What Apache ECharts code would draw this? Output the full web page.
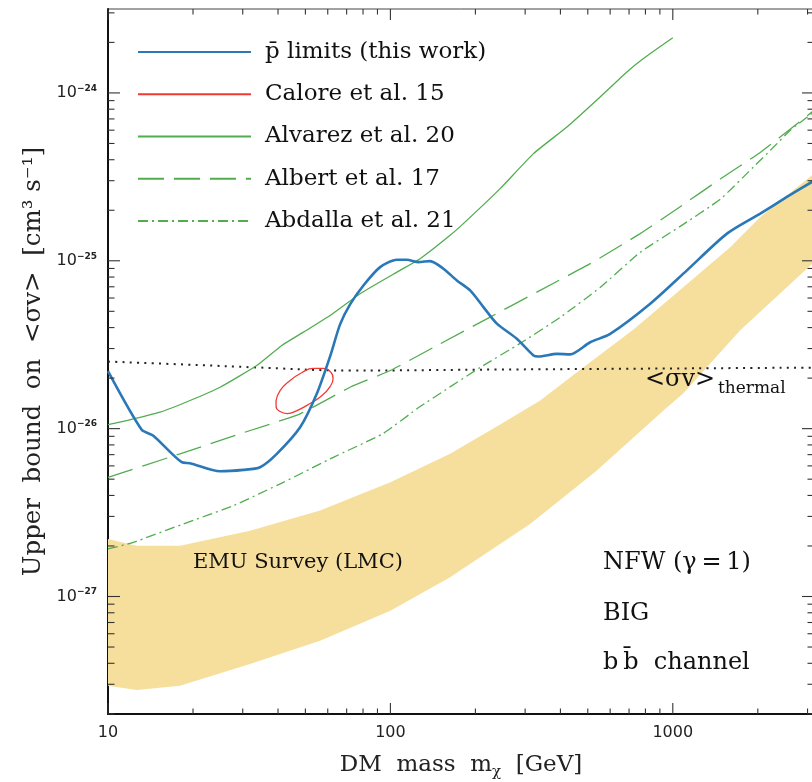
<!DOCTYPE html>
<html><head><meta charset="utf-8">
<script src="https://cdn.jsdelivr.net/npm/echarts@6/dist/echarts.min.js"></script>
<style>html,body{margin:0;padding:0;background:#fff}#c{width:812px;height:782px}</style>
</head><body><div id="c"></div>
<script>
// ---- data ----
const blueMass = [10, 13.16, 14.44, 18.24, 19.52, 24.93, 30.16, 34.55, 39.6, 47.9, 54.86, 61.14, 66.34, 71.98, 80.25, 91.96, 105.4, 114.3, 125.7, 138.2, 154.1, 171.9, 191.6, 213.5, 238.2, 280.4, 321.1, 334.4, 388.5, 433.2, 509.9, 600, 831.8, 1122, 1555, 2040, 2535, 3162];
const blueLimit = [2.20e-26, 9.84e-27, 9.10e-27, 6.31e-27, 6.22e-27, 5.57e-27, 5.68e-27, 5.89e-27, 7.08e-27, 1.019e-26, 1.613e-26, 2.69e-26, 4.18e-26, 5.50e-26, 7.13e-26, 9.17e-26, 1.015e-25, 1.015e-25, 9.82e-26, 9.96e-26, 8.97e-26, 7.64e-26, 6.66e-26, 5.30e-26, 4.22e-26, 3.43e-26, 2.73e-26, 2.69e-26, 2.79e-26, 2.77e-26, 3.27e-26, 3.67e-26, 5.55e-26, 8.77e-26, 1.451e-25, 1.91e-25, 2.40e-25, 3.0e-25];

const caloreMass = [39.37, 40.68, 44.12, 48.66, 53.23, 57.76, 61.66, 62.66, 61.14, 57.28, 51.94, 46.72, 43.06, 40.68, 39.37, 39.37];
const caloreLimit = [1.471e-26, 1.687e-26, 1.936e-26, 2.161e-26, 2.283e-26, 2.283e-26, 2.161e-26, 1.990e-26, 1.782e-26, 1.576e-26, 1.411e-26, 1.282e-26, 1.230e-26, 1.265e-26, 1.354e-26, 1.471e-26];

const alvarezMass = [10, 11.65, 15.28, 19.52, 24.93, 33.63, 41.24, 49.18, 61.14, 78.11, 108.2, 127.4, 162.7, 186.5, 244.7, 321.1, 421.7, 553.1, 687.8, 787.4, 1000];
const alvarezLimit = [1.058e-26, 1.117e-26, 1.253e-26, 1.471e-26, 1.765e-26, 2.378e-26, 3.13e-26, 3.756e-26, 4.724e-26, 6.366e-26, 8.77e-26, 1.029e-25, 1.418e-25, 1.741e-25, 2.69e-25, 4.35e-25, 6.27e-25, 9.47e-25, 1.334e-24, 1.604e-24, 2.13e-24];

const albertMass = [10, 17.99, 29.35, 47.9, 71.98, 100, 150, 225.5, 330, 509.9, 766.3, 1062, 1472, 2040, 3162];
const albertLimit = [5.13e-27, 7.08e-27, 9.32e-27, 1.226e-26, 1.765e-26, 2.221e-26, 3.20e-26, 4.62e-26, 6.51e-26, 9.61e-26, 1.451e-25, 2.1e-25, 3.07e-25, 4.42e-25, 7.88e-25];

const abdallaMass = [10, 12.29, 18.48, 27.79, 41.78, 62.83, 94.2, 127.4, 207.8, 288, 399, 553, 766.3, 1062, 1472, 1927, 2275, 2606, 3162];
const abdallaLimit = [1.919e-27, 2.102e-27, 2.705e-27, 3.477e-27, 4.79e-27, 6.75e-27, 9.35e-27, 1.354e-26, 2.313e-26, 3.22e-26, 4.60e-26, 6.94e-26, 1.122e-25, 1.604e-25, 2.323e-25, 3.61e-25, 4.76e-25, 5.99e-25, 7.7e-25];

const thermalMass = [10, 21.2, 32.6, 72, 245, 3162];
const thermalValue = [2.51e-26, 2.39e-26, 2.32e-26, 2.22e-26, 2.25e-26, 2.31e-26];

const emuUpperMass = [10, 12.64, 17.99, 31.84, 56.36, 100, 162.7, 244.7, 339.1, 482.8, 725.8, 1006, 1597, 2040, 3162];
const emuUpper = [2.203e-27, 2.009e-27, 2.009e-27, 2.468e-27, 3.248e-27, 4.79e-27, 7.08e-27, 1.058e-26, 1.471e-26, 2.323e-26, 3.90e-26, 6.22e-26, 1.202e-25, 1.822e-25, 3.31e-25];
const emuLowerMass = [10, 12.64, 17.99, 31.84, 56.36, 100, 162.7, 312.5, 538.4, 927, 1088, 1733, 3162];
const emuLower = [2.94e-28, 2.77e-28, 2.94e-28, 3.96e-28, 5.45e-28, 8.23e-28, 1.30e-27, 2.705e-27, 5.63e-27, 1.282e-26, 1.62e-26, 3.85e-26, 9.8e-26];

const xMajorTicks = [10, 100, 1000];
const yMajorTicks = [1e-27, 1e-26, 1e-25, 1e-24];
const xRange = [10, Math.pow(10, 3.5)];
const yRange = [Math.pow(10, -27.7), Math.pow(10, -23.5)];

const legendNames = ['p\u0304 limits (this work)', 'Calore et al. 15', 'Alvarez et al. 20', 'Albert et al. 17', 'Abdalla et al. 21'];

function minorTicks(lo, hi) {
  const out = [];
  for (let e = Math.floor(Math.log10(lo)) - 1; e <= Math.ceil(Math.log10(hi)); e++) {
    for (let k = 2; k <= 9; k++) {
      const v = k * Math.pow(10, e);
      if (v > lo * 1.0001 && v < hi * 0.9999) out.push(v);
    }
  }
  return out;
}
const xMinorTicks = minorTicks(xRange[0], xRange[1]);
const yMinorTicks = minorTicks(yRange[0], yRange[1]);

const pair = (xs, ys) => xs.map((x, i) => [x, ys[i]]);

const SERIF = '"DejaVu Serif", serif';
const GREEN = '#52ad4f';

function renderBand(params, api) {
  const pts = [];
  for (let i = 0; i < emuUpperMass.length; i++) pts.push(api.coord([emuUpperMass[i], emuUpper[i]]));
  for (let i = emuLowerMass.length - 1; i >= 0; i--) pts.push(api.coord([emuLowerMass[i], emuLower[i]]));
  return { type: 'polygon', shape: { points: pts }, style: { fill: '#f6df9d', stroke: null } };
}

function renderTicks(params, api) {
  const cs = params.coordSys;
  const L = cs.x, R = cs.x + cs.width, T = cs.y, B = cs.y + cs.height;
  const ch = [];
  const st = { stroke: '#333', lineWidth: 1.1 };
  const add = (x1, y1, x2, y2) => ch.push({ type: 'line', shape: { x1, y1, x2, y2 }, style: st });
  const yRef = 1e-26, xRef = 100;
  xMajorTicks.forEach(v => { const x = api.coord([v, yRef])[0]; add(x, B, x, B - 11); add(x, T, x, T + 11); });
  xMinorTicks.forEach(v => { const x = api.coord([v, yRef])[0]; add(x, B, x, B - 5.5); add(x, T, x, T + 5.5); });
  yMajorTicks.forEach(v => { const y = api.coord([xRef, v])[1]; add(L, y, L + 12, y); add(R, y, R - 12, y); });
  yMinorTicks.forEach(v => { const y = api.coord([xRef, v])[1]; add(L, y, L + 6.5, y); add(R, y, R - 6.5, y); });
  return { type: 'group', children: ch };
}

const chart = echarts.init(document.getElementById('c'), null, { renderer: 'canvas' });
chart.setOption({
  backgroundColor: '#fff',
  animation: false,
  grid: { left: 108, right: -2, top: 9, bottom: 68, show: true, borderColor: '#444', borderWidth: 1, containLabel: false, outerBoundsMode: 'none' },
  legend: {
    orient: 'vertical', left: 132, top: 35.5,
    itemWidth: 113, itemHeight: 14, itemGap: 19.25,
    data: legendNames,
    itemStyle: { opacity: 0 },
    textStyle: { fontFamily: SERIF, fontSize: 23, color: '#111', lineHeight: 23, padding: [0, 0, 0, 9] },
    selectedMode: false
  },
  xAxis: {
    type: 'log', logBase: 10, min: xRange[0], max: xRange[1],
    name: '{a|DM  mass  m}{s|\u03c7}{a|  [GeV]}', nameLocation: 'middle', nameGap: 37,
    nameTextStyle: { rich: {
      a: { fontFamily: SERIF, fontSize: 23, color: '#222' },
      s: { fontFamily: SERIF, fontSize: 15, color: '#222', padding: [14, 0, 0, 0] } } },
    axisLine: { show: true, lineStyle: { color: '#111', width: 2 } },
    axisTick: { show: false }, splitLine: { show: false },
    axisLabel: { margin: 11, fontFamily: '"DejaVu Sans"', fontSize: 16, color: '#222', showMinLabel: true, showMaxLabel: false,
      formatter: v => (Math.abs(Math.log10(v) - Math.round(Math.log10(v))) < 1e-6 ? String(Math.round(v)) : '') }
  },
  yAxis: {
    type: 'log', logBase: 10, min: yRange[0], max: yRange[1],
    name: 'Upper  bound  on  <\u03c3v>  [cm\u00b3 s\u207b\u00b9]', nameLocation: 'middle', nameGap: 62,
    nameTextStyle: { fontFamily: SERIF, fontSize: 24.5, color: '#222' },
    axisLine: { show: true, lineStyle: { color: '#111', width: 2 } },
    axisTick: { show: false }, splitLine: { show: false },
    axisLabel: { margin: 11, showMinLabel: false, showMaxLabel: false,
      formatter: v => {
        const e = Math.log10(v);
        if (Math.abs(e - Math.round(e)) > 1e-6) return '';
        const n = Math.round(e);
        return '{b|10}{s|' + (n < 0 ? '\u2212' : '') + Math.abs(n) + '}';
      },
      rich: {
        b: { fontFamily: '"DejaVu Sans"', fontSize: 16, color: '#222', lineHeight: 18 },
        s: { fontFamily: '"DejaVu Sans"', fontSize: 9, color: '#222', fontWeight: 'bold', verticalAlign: 'top', lineHeight: 18, padding: [0, 0, 9, 0] }
      } }
  },
  graphic: [
    { type: 'text', z: 100, x: 193, y: 563, style: { text: 'EMU Survey (LMC)', font: '21px "DejaVu Serif"', fill: '#111', verticalAlign: 'middle' } },
    { type: 'text', z: 100, x: 603, y: 563, style: { text: 'NFW (\u03b3\u2009=\u20091)', font: '24px "DejaVu Serif"', fill: '#111', verticalAlign: 'middle' } },
    { type: 'text', z: 100, x: 603, y: 614, style: { text: 'BIG', font: '24px "DejaVu Serif"', fill: '#111', verticalAlign: 'middle' } },
    { type: 'text', z: 100, x: 603, y: 663, style: { text: 'b\u2009b\u0304  channel', font: '24px "DejaVu Serif"', fill: '#111', verticalAlign: 'middle' } },
    { type: 'text', z: 100, x: 645, y: 380, style: { text: '<\u03c3v>', font: '24px "DejaVu Serif"', fill: '#111', verticalAlign: 'middle' } },
    { type: 'text', z: 100, x: 718, y: 389, style: { text: 'thermal', font: '17px "DejaVu Serif"', fill: '#111', verticalAlign: 'middle' } }
  ],
  series: [
    { type: 'custom', name: 'EMU Survey (LMC)', renderItem: renderBand, data: [[10, 1e-26]], z: 1, silent: true },
    { type: 'line', name: 'thermal', data: pair(thermalMass, thermalValue), symbol: 'none', smooth: 0.4, z: 3,
      lineStyle: { color: '#222', width: 2, type: [2, 5.3] } },
    { type: 'line', name: 'Alvarez et al. 20', data: pair(alvarezMass, alvarezLimit), symbol: 'none', smooth: 0.15, z: 4,
      lineStyle: { color: GREEN, width: 1.3 }, itemStyle: { color: GREEN } },
    { type: 'line', name: 'Albert et al. 17', data: pair(albertMass, albertLimit), symbol: 'none', smooth: 0.15, z: 4,
      lineStyle: { color: GREEN, width: 1.3, type: [26, 10] }, itemStyle: { color: GREEN } },
    { type: 'line', name: 'Abdalla et al. 21', data: pair(abdallaMass, abdallaLimit), symbol: 'none', smooth: 0.15, z: 4,
      lineStyle: { color: GREEN, width: 1.3, type: [10, 4, 2, 4] }, itemStyle: { color: GREEN } },
    { type: 'line', name: 'Calore et al. 15', data: pair(caloreMass, caloreLimit), symbol: 'none', smooth: 0.5, z: 5,
      lineStyle: { color: '#f03a32', width: 1.3 }, itemStyle: { color: '#f03a32' } },
    { type: 'line', name: 'p\u0304 limits (this work)', data: pair(blueMass, blueLimit), symbol: 'none', smooth: 0.25, z: 6,
      lineStyle: { color: '#2a78b8', width: 2.6 }, itemStyle: { color: '#2a78b8' } },
    { type: 'custom', name: 'ticks', renderItem: renderTicks, data: [[100, 1e-26]], z: 10, silent: true }
  ]
});
</script></body></html>
